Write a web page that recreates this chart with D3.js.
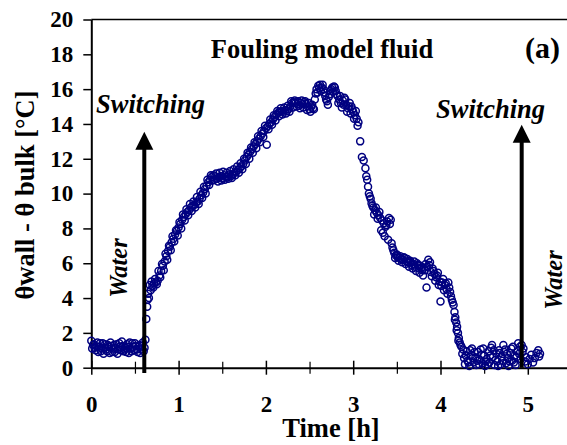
<!DOCTYPE html>
<html>
<head>
<meta charset="utf-8">
<script src="https://d3js.org/d3.v7.min.js"></script>
<style>
    body { margin: 0; background: #fff; }
    svg text { font-family: 'Liberation Serif', 'Times New Roman', serif; font-weight: bold; fill: #000; }
    .ital { font-style: italic; }
</style>
</head>
<body>
<svg id="svg"></svg>
<script>
    let visWidth = 567;
    let visHeight = 445;
    let serif = "'Liberation Serif', 'Times New Roman', serif";

    // [time h, theta wall - theta bulk °C]
    let waterStart = [
        [0.00,1.55],[0.01,1.10],[0.02,1.30],[0.03,1.35],[0.04,1.15],[0.05,1.00],[0.06,1.20],[0.07,1.45],
        [0.08,0.90],[0.09,1.20],[0.10,1.40],[0.11,0.95],[0.12,1.10],[0.13,1.40],[0.14,0.80],[0.15,1.15],
        [0.16,1.35],[0.17,1.05],[0.18,0.95],[0.19,1.30],[0.20,1.20],[0.21,0.85],[0.22,1.45],[0.23,1.25],
        [0.24,0.90],[0.25,1.10],[0.26,1.30],[0.27,0.90],[0.28,1.15],[0.29,1.35],[0.30,0.80],[0.31,1.05],
        [0.32,1.40],[0.33,1.20],[0.34,1.00],[0.35,1.50],[0.36,1.25],[0.37,0.95],[0.38,1.05],[0.39,1.15],
        [0.40,0.90],[0.41,1.35],[0.42,1.20],[0.43,0.85],[0.44,1.45],[0.45,1.10],[0.46,0.95],[0.47,1.40],
        [0.48,1.20],[0.49,1.00],[0.50,1.40],[0.51,1.25],[0.52,1.05],[0.53,0.90],[0.54,1.20],[0.55,1.30],
        [0.56,0.85],[0.57,1.05],[0.58,1.25],[0.59,1.45],[0.60,0.95],[0.61,1.15],[0.62,1.60]
    ];
    let fouling = [
        [0.63,2.80],[0.64,3.50],[0.645,3.90],[0.65,4.25],[0.66,4.00],[0.67,4.75],[0.68,4.45],[0.69,4.95],
        [0.70,4.70],[0.71,4.60],[0.72,4.85],[0.73,5.10],[0.74,4.90],[0.75,4.80],[0.76,5.00],[0.77,5.55],
        [0.78,5.30],[0.79,5.20],[0.80,5.55],[0.81,5.95],[0.82,5.85],[0.83,5.60],[0.84,6.10],[0.85,6.55],
        [0.86,6.40],[0.87,6.20],[0.88,6.70],[0.89,7.00],[0.90,6.95],[0.91,6.75],[0.92,7.20],[0.93,7.55],
        [0.94,7.40],[0.95,7.25],[0.96,7.65],[0.97,7.90],[0.98,7.85],[0.99,7.60],[1.00,8.05],[1.01,8.35],
        [1.02,8.25],[1.03,8.00],[1.04,8.50],[1.05,8.80],[1.06,8.65],[1.07,8.45],[1.08,8.80],[1.09,9.10],
        [1.10,8.95],[1.11,8.75],[1.12,9.05],[1.13,9.40],[1.14,9.20],[1.15,9.00],[1.16,9.30],[1.17,9.55],
        [1.18,9.35],[1.19,9.20],[1.20,9.50],[1.21,9.80],[1.22,9.55],[1.23,9.40],[1.24,9.70],[1.25,10.10],
        [1.26,9.90],[1.27,9.75],[1.28,10.05],[1.29,10.40],[1.30,10.25],[1.31,10.00],[1.32,10.45],[1.33,10.80],
        [1.34,10.65],[1.35,10.50],[1.36,10.80],[1.37,11.05],[1.38,10.95],[1.39,10.75],[1.40,11.05],[1.41,10.80],
        [1.42,11.00],[1.43,11.15],[1.44,10.85],[1.45,10.70],[1.46,10.95],[1.47,11.20],[1.48,11.00],[1.49,10.75],
        [1.50,10.90],[1.51,11.25],[1.52,11.05],[1.53,10.80],[1.54,10.95],[1.55,11.20],[1.56,11.00],[1.57,10.85],
        [1.58,11.10],[1.59,11.30],[1.60,11.00],[1.61,10.90],[1.62,11.10],[1.63,11.40],[1.64,11.20],[1.65,11.05],
        [1.66,11.25],[1.67,11.55],[1.68,11.35],[1.69,11.20],[1.70,11.45],[1.71,11.75],[1.72,11.55],[1.73,11.40],
        [1.74,11.70],[1.75,12.00],[1.76,11.90],[1.77,11.70],[1.78,12.10],[1.79,12.35],[1.80,12.25],[1.81,12.00],
        [1.82,12.40],[1.83,12.65],[1.84,12.55],[1.85,12.35],[1.86,12.70],[1.87,12.95],[1.88,12.85],[1.89,12.60],
        [1.90,13.00],[1.91,13.30],[1.92,13.15],[1.93,12.95],[1.94,13.30],[1.95,13.60],[1.96,13.45],[1.97,13.25],
        [1.98,13.60],[1.99,13.90],[2.00,13.75],[2.01,12.80],[2.02,13.85],[2.03,13.70],[2.04,14.00],[2.05,14.25],
        [2.06,14.10],[2.07,13.95],[2.08,14.25],[2.09,14.50],[2.10,14.40],[2.11,14.20],[2.12,14.55],[2.13,14.75],
        [2.14,14.65],[2.15,14.45],[2.16,14.70],[2.17,14.90],[2.18,14.75],[2.19,14.55],[2.20,14.70],[2.21,14.95],
        [2.22,14.80],[2.23,14.60],[2.24,14.75],[2.25,15.05],[2.26,14.85],[2.27,14.70],[2.28,15.00],[2.29,15.30],
        [2.30,15.20],[2.31,14.95],[2.32,15.25],[2.33,15.35],[2.34,15.20],[2.35,15.00],[2.36,15.15],[2.37,15.30],
        [2.38,15.05],[2.39,14.90],[2.40,15.20],[2.41,15.35],[2.42,15.15],[2.43,14.95],[2.44,15.25],[2.45,15.30],
        [2.46,15.15],[2.47,14.80],[2.48,15.00],[2.49,15.20],[2.50,14.85],[2.51,14.70],[2.52,15.00],[2.53,15.10],
        [2.54,14.90],[2.55,14.85],[2.56,15.40],[2.57,15.75],[2.58,16.00],[2.59,15.80],[2.60,16.20],[2.61,16.05],
        [2.62,16.25],[2.63,15.90],[2.64,16.10],[2.65,16.25],[2.66,16.00],[2.67,15.80],[2.68,15.60],[2.69,15.40],
        [2.70,15.30],[2.71,15.10],[2.72,15.55],[2.73,15.70],[2.74,15.90],[2.75,16.00],[2.76,16.10],[2.77,15.85],
        [2.78,16.15],[2.79,16.10],[2.80,15.90],[2.81,15.70],[2.82,15.60],[2.83,15.20],[2.84,15.40],[2.85,15.60],
        [2.86,15.20],[2.87,14.95],[2.88,15.35],[2.89,15.10],[2.90,15.50],[2.91,15.40],[2.92,15.10],[2.93,14.70],
        [2.94,14.90],[2.95,15.00],[2.96,15.20],[2.97,14.60],[2.98,15.00],[2.99,14.85],[3.00,14.70],[3.01,14.30],
        [3.02,14.50],[3.03,14.75],[3.04,14.30],[3.05,13.90],[3.06,14.10],[3.08,13.00],[3.10,12.10],[3.12,11.90],
        [3.14,11.45],[3.15,11.00],[3.16,10.80],[3.17,10.40],[3.18,10.00],[3.19,9.85],[3.20,9.70],[3.21,9.45],
        [3.22,9.30],[3.23,9.20],[3.24,8.80],[3.25,9.05],[3.26,9.20],[3.27,8.90],[3.28,8.55],[3.29,8.75],
        [3.30,8.95],[3.31,8.60],[3.32,7.90],[3.33,8.45],[3.34,7.75],[3.35,8.30],[3.36,7.55],[3.37,8.10],
        [3.38,8.20],[3.39,8.40],[3.40,7.35],[3.41,8.60],[3.42,8.25],[3.43,8.50],[3.44,7.15],[3.45,6.90],
        [3.46,6.75],[3.47,6.60],[3.48,6.30],[3.49,6.45],[3.50,6.50],[3.51,6.35],[3.52,6.15],[3.53,6.30],
        [3.54,6.40],[3.55,6.25],[3.56,6.05],[3.57,6.20],[3.58,6.35],[3.59,6.30],[3.60,5.95],[3.61,6.10],
        [3.62,6.25],[3.63,6.05],[3.64,5.80],[3.65,6.15],[3.66,6.05],[3.67,5.90],[3.68,5.70],[3.69,5.95],
        [3.70,6.10],[3.71,5.80],[3.72,5.55],[3.73,6.00],[3.74,5.90],[3.75,5.70],[3.76,5.45],[3.77,5.85],
        [3.78,5.75],[3.79,5.60],[3.80,5.30],[3.81,5.75],[3.82,5.60],[3.83,5.95],[3.84,4.60],[3.85,5.80],
        [3.86,6.20],[3.87,5.90],[3.88,6.05],[3.89,5.50],[3.90,5.25],[3.91,5.70],[3.92,5.55],[3.93,5.40],
        [3.94,5.00],[3.95,5.20],[3.96,5.30],[3.97,5.45],[3.98,4.75],[3.99,4.95],[4.00,3.80],[4.01,4.70],
        [4.02,4.90],[4.03,5.10],[4.04,4.45],[4.05,4.75],[4.06,4.85],[4.07,4.50],[4.08,4.25],[4.09,4.90],
        [4.10,4.60],[4.11,4.35],[4.12,4.10],[4.13,3.90],[4.14,3.75],[4.15,3.60],[4.16,3.20],[4.165,2.75],
        [4.17,2.90],[4.18,2.60],[4.185,2.15],[4.19,2.35],[4.20,2.00],[4.205,1.55],[4.21,1.70],[4.22,1.45],
        [4.23,1.30],[4.24,1.20],[4.25,0.80],[4.26,1.05],[4.27,0.55],[4.28,0.20],[4.29,0.70],[4.30,0.95],
        [4.31,0.40],[4.32,0.30],[4.33,0.10],[4.34,1.00],[4.35,0.75],[4.36,1.10],[4.37,0.55],[4.38,0.30],
        [4.39,0.90],[4.40,0.60],[4.41,0.15],[4.42,0.40],[4.43,0.90],[4.44,0.20],[4.45,0.45],[4.46,1.05],
        [4.47,0.75],[4.48,0.25],[4.49,1.10],[4.50,0.70],[4.51,0.10],[4.52,0.35],[4.53,0.50],[4.54,0.20],
        [4.55,0.95],[4.56,0.30],[4.57,0.70],[4.58,1.15],[4.59,1.30],[4.60,0.60],[4.61,1.00],[4.62,0.15],
        [4.63,0.45],[4.64,0.80],[4.65,0.35],[4.66,0.10],[4.67,1.00],[4.68,0.85],[4.69,0.20],[4.70,0.65],
        [4.71,0.40],[4.72,1.30],[4.73,0.90],[4.74,1.05],[4.75,0.25],[4.76,0.80],[4.77,0.55],[4.78,0.10],
        [4.79,0.35],[4.80,0.85],[4.81,1.10],[4.82,0.40],[4.83,1.20],[4.84,0.30],[4.85,0.70],[4.86,0.15],
        [4.87,0.60],[4.88,0.95],[4.89,1.40],[4.90,0.80],[4.91,1.20],[4.92,0.50],[4.93,1.30]
    ];
    let waterEnd = [
        [4.94,0.90],[4.95,1.10],[4.97,0.35],[4.98,0.60],[5.00,0.20],[5.02,0.50],[5.04,0.75],[5.06,0.30],
        [5.08,0.55],[5.10,0.85],[5.12,1.00],[5.13,0.65],[5.14,0.80]
    ];

    let yTicks = [0, 2, 4, 6, 8, 10, 12, 14, 16, 18, 20];
    let xTicks = [0, 1, 2, 3, 4, 5];
    let xMinor = [0.5, 1.5, 2.5, 3.5, 4.5, 5.5];

    // switching arrows: time, bottom value, tip value
    let switchT = [0.607, 4.93];
    let switchBottom = [-0.3, 0];
    let switchTip = [13.55, 13.95];

    let svg = d3.select('#svg')
        .attr('width', visWidth)
        .attr('height', visHeight);

    let xScale = d3.scaleLinear()
        .domain([0, 5.5])
        .range([91.3, 91.3 + 5.5 * 87.3]);

    let yScale = d3.scaleLinear()
        .domain([0, 20])
        .range([367.7, 19.5]);

    // top frame line
    svg.append('line')
        .attr('x1', xScale(0)).attr('x2', visWidth)
        .attr('y1', yScale(20)).attr('y2', yScale(20))
        .attr('stroke', '#000').attr('stroke-width', 1.5);

    let yAxis = d3.axisLeft(yScale).tickValues(yTicks).tickSize(8).tickSizeOuter(0).tickPadding(10);
    let yAxisGroup = svg.append('g')
        .attr('transform', `translate(${xScale(0)},0)`)
        .call(yAxis);
    yAxisGroup.select('.domain').attr('stroke-width', 2);
    yAxisGroup.selectAll('.tick line').attr('stroke-width', 1.5);
    yAxisGroup.selectAll('text')
        .style('font-family', serif).style('font-weight', 'bold').style('font-size', '23px');

    let xAxis = d3.axisBottom(xScale).tickValues(xTicks).tickSize(7).tickSizeOuter(0)
        .tickFormat(d3.format('d'));
    let xAxisGroup = svg.append('g')
        .attr('transform', `translate(0,${yScale(0)})`)
        .call(xAxis);
    xAxisGroup.select('.domain').attr('stroke-width', 2);
    xAxisGroup.selectAll('.tick line').attr('y1', -7).attr('y2', 7).attr('stroke-width', 1.5);
    xAxisGroup.selectAll('text').attr('y', 44).attr('dy', null)
        .style('font-family', serif).style('font-weight', 'bold').style('font-size', '23px');

    let xMinorAxis = d3.axisBottom(xScale).tickValues(xMinor).tickSize(6).tickFormat('');
    let xMinorGroup = svg.append('g')
        .attr('transform', `translate(0,${yScale(0)})`)
        .call(xMinorAxis);
    xMinorGroup.select('.domain').remove();
    xMinorGroup.selectAll('.tick line').attr('y1', -6).attr('y2', 6).attr('stroke-width', 1.2);

    // points
    let allPoints = waterStart.concat(fouling, waterEnd);
    svg.append('g').selectAll('circle')
        .data(allPoints)
        .enter()
        .append('circle')
        .attr('cx', d => xScale(d[0]))
        .attr('cy', d => yScale(d[1]))
        .attr('r', 3.5)
        .attr('fill', 'none')
        .attr('stroke', '#000080')
        .attr('stroke-width', 1.5);

    // switching arrows
    switchT.forEach(function(t, i) {
        let x = xScale(t);
        let tip = yScale(switchTip[i]);
        svg.append('line')
            .attr('x1', x).attr('x2', x)
            .attr('y1', yScale(switchBottom[i])).attr('y2', tip + 16)
            .attr('stroke', '#000').attr('stroke-width', 4);
        svg.append('path')
            .attr('d', `M${x},${tip} L${x - 9},${tip + 18} L${x + 9},${tip + 18} Z`)
            .attr('fill', '#000');
    });

    // texts
    svg.append('text')
        .text('Fouling model fluid')
        .attr('x', 322).attr('y', 58.3)
        .attr('text-anchor', 'middle')
        .style('font-size', '26.5px');

    svg.append('text')
        .text('(a)')
        .attr('x', 525).attr('y', 58.3)
        .style('font-size', '30px');

    svg.append('text')
        .text('Switching')
        .attr('class', 'ital')
        .attr('x', 96).attr('y', 113)
        .style('font-size', '26.5px');

    svg.append('text')
        .text('Switching')
        .attr('class', 'ital')
        .attr('x', 436).attr('y', 118)
        .style('font-size', '26.5px');

    svg.append('text')
        .text('Water')
        .attr('class', 'ital')
        .attr('text-anchor', 'middle')
        .attr('transform', 'translate(126.5,268) rotate(-90)')
        .style('font-size', '24.5px');

    svg.append('text')
        .text('Water')
        .attr('class', 'ital')
        .attr('text-anchor', 'middle')
        .attr('transform', 'translate(562,280) rotate(-90)')
        .style('font-size', '24.5px');

    svg.append('text')
        .text('Time [h]')
        .attr('x', 331).attr('y', 436.5)
        .attr('text-anchor', 'middle')
        .style('font-size', '26.5px');

    svg.append('text')
        .text('θwall - θ bulk [°C]')
        .attr('text-anchor', 'middle')
        .attr('transform', 'translate(33.5,195) rotate(-90)')
        .style('font-size', '26.5px');
</script>
</body>
</html>
